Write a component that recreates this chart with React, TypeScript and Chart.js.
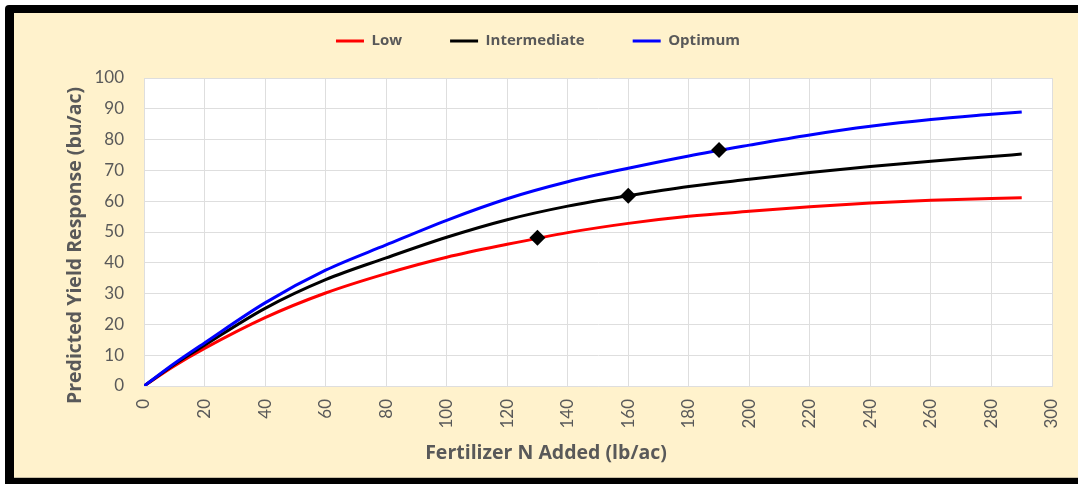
import React, { useEffect, useRef } from "react";
import { Chart, registerables } from "chart.js";

Chart.register(...registerables);

// ---- data ----
const nAdded = [0, 10, 20, 40, 60, 80, 100, 120, 140, 160, 180, 200, 220, 240, 260, 280, 290];
const lowYield = [0, 6.5, 12.2, 22.2, 30.2, 36.5, 41.8, 46.0, 49.8, 52.8, 55.1, 56.7, 58.2, 59.4, 60.3, 60.9, 61.1];
const intermediateYield = [0, 7.0, 13.2, 25.2, 34.5, 41.6, 48.3, 54.0, 58.4, 61.8, 64.8, 67.1, 69.3, 71.3, 73.0, 74.5, 75.3];
const optimumYield = [0, 7.3, 14.0, 27.0, 37.6, 45.8, 53.8, 60.8, 66.3, 70.7, 74.7, 78.2, 81.5, 84.3, 86.5, 88.2, 89.0];
const markerN = [130, 160, 190];
const markerYield = [48.1, 61.8, 76.6];
const seriesNames = ["Low", "Intermediate", "Optimum"];
const seriesColors = ["#FF0000", "#000000", "#0000FF"];
const xTitle = "Fertilizer N Added (lb/ac)";
const yTitle = "Predicted Yield Response (bu/ac)";

export default function App() {
  const ref = useRef<HTMLCanvasElement>(null);

  useEffect(() => {
    if (!ref.current) return;
    const textColor = "#595959";
    const tickFamily = "Lato";
    const titleFamily = "'Open Sans'";
    const gridColor = "#DEDEDE";
    const toPts = (ys: number[]) => nAdded.map((x, i) => ({ x, y: ys[i] }));
    const series = [lowYield, intermediateYield, optimumYield];

    const plotBg = {
      id: "plotBg",
      beforeDraw(chart: any) {
        const { ctx, chartArea: a } = chart;
        ctx.save();
        ctx.fillStyle = "#FFFFFF";
        ctx.fillRect(a.left, a.top, a.width, a.height);
        ctx.restore();
      },
    };

    const legendTweak = {
      id: "legendTweak",
      beforeInit(chart: any) {
        const lg = chart.legend;
        if (!lg) return;
        const fit = lg.fit;
        lg.fit = function (...args: any[]) {
          fit.apply(this, args);
          this.height = 65;
        };
        const draw = lg.draw;
        lg.draw = function (...args: any[]) {
          const ctx = this.ctx;
          ctx.save();
          ctx.translate(-8, -27.5);
          draw.apply(this, args);
          ctx.restore();
        };
      },
    };

    const chart = new Chart(ref.current, {
      type: "line",
      data: {
        datasets: [
          ...series.map((ys, i) => ({
            label: seriesNames[i],
            data: toPts(ys),
            borderColor: seriesColors[i],
            backgroundColor: seriesColors[i],
            borderWidth: 3,
            pointRadius: 0,
            pointHoverRadius: 0,
            cubicInterpolationMode: "monotone" as const,
            order: 3 - i,
          })),
          {
            label: "markers",
            data: markerN.map((x, i) => ({ x, y: markerYield[i] })),
            showLine: false,
            pointStyle: "rectRot" as const,
            pointRadius: 8,
            pointHoverRadius: 8,
            pointBackgroundColor: "#000000",
            pointBorderWidth: 0,
            borderColor: "#000000",
            backgroundColor: "#000000",
            order: 0,
          },
        ],
      },
      options: {
        animation: false,
        responsive: false,
        maintainAspectRatio: false,
        events: [],
        layout: { padding: 0 },
        scales: {
          x: {
            type: "linear",
            min: 0,
            max: 300,
            afterFit(s: any) {
              s.height = 55.3;
              s.paddingRight = 26;
              s.paddingLeft = 0;
            },
            grid: { color: gridColor, drawTicks: false, lineWidth: 1 },
            border: { color: gridColor },
            ticks: {
              stepSize: 20,
              autoSkip: false,
              maxRotation: 90,
              minRotation: 90,
              padding: 13,
              color: textColor,
              font: { family: tickFamily, size: 17 },
            },
          },
          y: {
            type: "linear",
            min: 0,
            max: 100,
            afterFit(s: any) {
              s.width = 57.3;
            },
            grid: { color: gridColor, drawTicks: false, lineWidth: 1 },
            border: { color: gridColor },
            ticks: {
              stepSize: 10,
              padding: 20,
              color: textColor,
              font: { family: tickFamily, size: 17 },
            },
          },
        },
        plugins: {
          legend: {
            position: "top",
            align: "center",
            labels: {
              boxWidth: 28,
              boxHeight: 3,
              padding: 48,
              color: textColor,
              font: { family: titleFamily, size: 15, weight: "bold" },
              filter: (item: any) => item.datasetIndex < 3,
              sort: (a: any, b: any) => a.datasetIndex - b.datasetIndex,
              generateLabels: (c: any) =>
                Chart.defaults.plugins.legend.labels
                  .generateLabels(c)
                  .map((l: any) => ({ ...l, lineWidth: 0 })),
            },
          },
          title: {
            display: true,
            text: yTitle,
            position: "left",
            color: textColor,
            font: { family: titleFamily, size: 19.5, weight: "bold" },
            padding: { top: 49.3, bottom: 0 },
          },
          subtitle: {
            display: true,
            text: xTitle,
            position: "bottom",
            color: textColor,
            font: { family: titleFamily, size: 19.5, weight: "bold" },
            padding: { top: 0, bottom: 13.3 },
          },
          tooltip: { enabled: false },
        },
      },
      plugins: [plotBg, legendTweak],
    } as any);

    return () => chart.destroy();
  }, []);

  return (
    <div style={{ position: "absolute", left: 0, top: 0, width: 1078, height: 484, background: "#FFFFFF", overflow: "hidden" }}>
      <div style={{ position: "absolute", left: 5, top: 5, width: 1073, height: 479, background: "#000000", borderTopLeftRadius: 4 }} />
      <div style={{ position: "absolute", left: 14, top: 13, width: 1064, height: 465, background: "#FFF2CC", boxShadow: "inset 0 -1px 0 #C9BFA4" }}>
        <canvas ref={ref} width={1064} height={465} style={{ display: "block", width: 1064, height: 465 }} />
      </div>
    </div>
  );
}
